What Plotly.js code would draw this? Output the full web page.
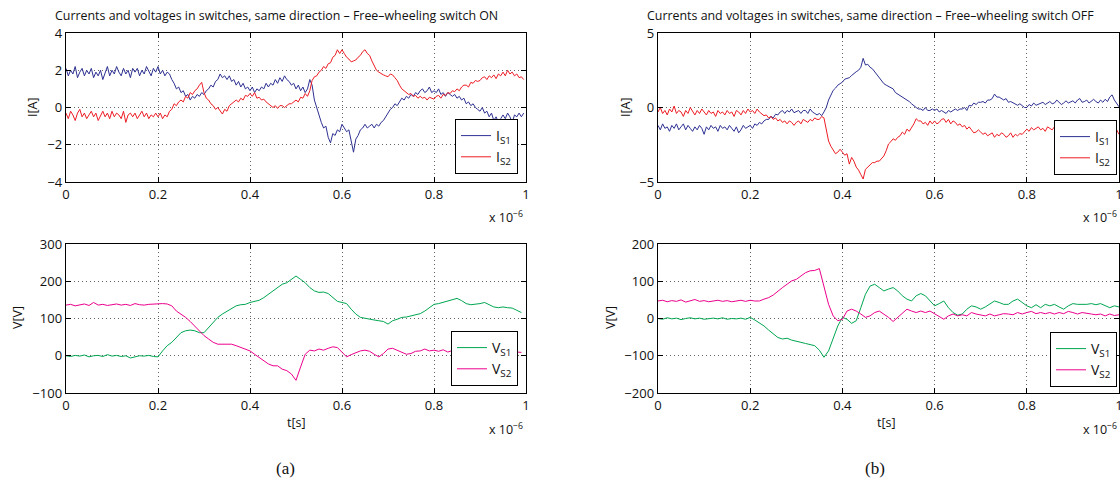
<!DOCTYPE html>
<html><head><meta charset="utf-8">
<script src="https://cdn.plot.ly/plotly-3.0.1.min.js"></script>
<style>html,body{margin:0;padding:0;background:#fff}#chart{width:1120px;height:482px}</style>
</head><body><div id="chart"></div>
<script>
// ---- (a) Free-wheeling switch ON : currents, sampled every 0.005 (x 1e-6 s) ----
const IS1_on = [
 2.1, 1.7, 2.0, 1.8, 2.2, 1.6, 1.9, 2.1, 1.7, 2.0,
 1.8, 2.1, 1.6, 1.9, 1.7, 2.0, 1.5, 1.8, 2.2, 1.7,
 2.0, 1.8, 2.2, 1.9, 1.7, 2.1, 1.8, 2.0, 1.6, 2.1,
 1.9, 2.1, 1.7, 2.0, 1.8, 2.2, 1.9, 1.7, 2.1, 1.9,
 2.2, 1.8, 2.0, 1.7, 1.9, 1.8, 1.5, 1.3, 1.0, 1.1,
 0.8, 0.9, 0.6, 0.7, 0.4, 0.6, 0.5, 0.7, 0.6, 0.8,
 0.7, 0.9, 1.0, 1.2, 1.1, 1.4, 1.5, 1.8, 1.6, 1.7,
 1.5, 1.7, 1.4, 1.5, 1.2, 1.4, 1.1, 1.3, 1.0, 1.1,
 0.9, 1.1, 0.8, 1.0, 0.9, 1.1, 1.0, 1.3, 1.1, 1.3,
 1.2, 1.5, 1.3, 1.6, 1.4, 1.7, 1.5, 1.4, 1.2, 1.3,
 1.0, 1.2, 0.9, 1.1, 0.8, 1.0, 1.5, 1.2, 0.4, 0.0,
 -0.5, -0.8, -1.1, -1.0, -1.6, -1.9, -1.4, -1.5, -1.2, -1.3,
 -0.9, -1.1, -1.3, -1.2, -1.8, -2.4, -1.7, -1.5, -1.2, -1.1,
 -0.9, -1.1, -1.0, -0.9, -1.1, -0.9, -1.0, -0.8, -0.7, -0.5,
 -0.3, -0.1, 0.0, 0.2, 0.1, 0.3, 0.5, 0.4, 0.6, 0.5,
 0.7, 0.6, 0.8, 0.7, 0.9, 1.0, 0.8, 0.9, 1.1, 0.8,
 0.9, 0.8, 1.0, 0.7, 0.8, 0.6, 0.8, 0.7, 0.6, 0.7,
 0.5, 0.6, 0.4, 0.5, 0.2, 0.3, 0.1, 0.2, 0.0, -0.1,
 -0.2, 0.0, -0.3, -0.2, -0.5, -0.3, -0.7, -0.5, -0.8, -0.6,
 -0.4, -0.6, -0.3, -0.5, -0.8, -0.4, -0.5, -0.3, -0.5, -0.3
];
const IS2_on = [
 -0.3, -0.6, -0.2, -0.4, -0.7, -0.3, -0.1, -0.5, -0.3, -0.6,
 -0.4, -0.2, -0.5, -0.3, -0.7, -0.4, -0.2, -0.5, -0.3, -0.6,
 -0.2, -0.5, -0.3, -0.4, -0.6, -0.2, -0.8, -0.4, -0.3, -0.5,
 -0.3, -0.6, -0.4, -0.2, -0.5, -0.3, -0.6, -0.4, -0.5, -0.3,
 -0.5, -0.3, -0.6, -0.4, -0.5, -0.2, -0.1, 0.2, 0.1, 0.3,
 0.4, 0.3, 0.6, 0.5, 0.8, 0.7, 0.9, 1.0, 1.2, 1.35,
 0.8, 0.5, 0.4, 0.2, 0.1, -0.1, 0.0, -0.2, -0.35, -0.1,
 -0.2, 0.1, 0.2, 0.3, 0.4, 0.3, 0.5, 0.4, 0.65, 0.6,
 0.75, 0.6, 0.8, 0.5, 0.55, 0.4, 0.45, 0.3, 0.2, 0.1,
 0.0, 0.1, -0.05, 0.1, 0.1, 0.0, 0.1, 0.2, 0.2, 0.3,
 0.4, 0.3, 0.55, 0.5, 0.75, 0.6, 0.9, 1.45, 1.65, 1.7,
 1.9, 2.0, 2.2, 2.1, 2.35, 2.4, 2.7, 2.8, 3.1, 2.9,
 3.1, 2.9, 2.7, 2.6, 2.45, 2.5, 2.55, 2.7, 2.8, 3.0,
 3.1, 2.9, 2.8, 2.5, 2.2, 2.0, 1.9, 1.8, 1.75, 1.7,
 1.65, 1.8, 1.75, 1.6, 1.45, 1.2, 1.0, 0.9, 0.8, 0.7,
 0.75, 0.6, 0.65, 0.5, 0.6, 0.5, 0.55, 0.4, 0.55, 0.5,
 0.45, 0.6, 0.65, 0.5, 0.7, 0.65, 0.8, 0.75, 0.9, 0.85,
 1.0, 0.9, 1.1, 1.2, 1.2, 1.1, 1.35, 1.3, 1.45, 1.4,
 1.45, 1.6, 1.65, 1.5, 1.7, 1.6, 1.75, 1.55, 1.8, 1.7,
 1.9, 1.7, 2.0, 1.8, 1.9, 1.7, 1.8, 1.6, 1.65, 1.5
];
// ---- (a) voltages, sampled every 0.01 ----
const VS1_on = [
 0, -2, 1, -1, 2, -3, 0, 1, -2, 3,
 -1, 1, -2, 0, -6, -3, 0, -1, 1, -2,
 -3, 13, 27, 36, 49, 62, 67, 69, 67, 62,
 62, 76, 89, 103, 112, 120, 128, 134, 137, 138,
 143, 146, 149, 156, 165, 174, 183, 192, 196, 205,
 214, 205, 196, 183, 174, 170, 171, 167, 156, 146,
 143, 140, 125, 112, 103, 100, 98, 96, 94, 92,
 85, 94, 98, 103, 104, 107, 110, 113, 120, 129,
 138, 140, 143, 146, 149, 154, 148, 140, 137, 138,
 140, 143, 137, 131, 129, 131, 129, 128, 122, 116
];
const VS2_on = [
 136, 138, 134, 137, 139, 135, 143, 136, 138, 135,
 137, 139, 136, 138, 135, 140, 137, 136, 138, 139,
 140, 140, 139, 134, 120, 112, 103, 92, 80, 67,
 54, 45, 36, 31, 31, 33, 31, 27, 22, 18,
 13, 4, -4, -13, -22, -27, -27, -36, -40, -49,
 -66, -30, 4, 15, 13, 18, 15, 20, 24, 22,
 9, -3, 3, 9, 13, 15, 12, 4, -3, 6,
 18, 20, 15, 9, 4, 6, 12, 13, 18, 13,
 15, 12, 16, 10, 14, 8, 12, 10, 14, 9,
 12, 8, 11, 14, 10, 12, 9, 13, 10, 9
];
// ---- (b) Free-wheeling switch OFF : currents, every 0.005 ----
const IS1_off = [
 -1.2, -1.5, -1.1, -1.4, -1.3, -1.6, -1.2, -1.4, -1.1, -1.5,
 -1.3, -1.1, -1.5, -1.2, -1.4, -1.6, -1.3, -1.5, -1.2, -1.4,
 -1.8, -1.3, -1.5, -1.2, -1.4, -1.3, -1.6, -1.2, -1.4, -1.3,
 -1.5, -1.2, -1.4, -1.6, -1.3, -1.7, -1.5, -1.2, -1.4, -1.3,
 -1.2, -1.4, -1.1, -1.2, -1.0, -1.1, -0.9, -0.8, -0.8, -0.6,
 -0.7, -0.45, -0.5, -0.3, -0.2, -0.4, -0.2, -0.3, -0.1, -0.35,
 -0.3, -0.2, -0.4, -0.2, -0.2, -0.4, -0.1, -0.3, -0.4, -0.5,
 -0.4, -0.55, -0.3, 0.0, 0.5, 0.8, 1.15, 1.3, 1.5, 1.6,
 1.7, 1.9, 1.95, 2.0, 2.15, 2.3, 2.4, 2.5, 2.7, 3.3,
 2.85, 2.9, 2.7, 2.6, 2.4, 2.2, 2.05, 1.8, 1.6, 1.5,
 1.4, 1.3, 1.25, 1.0, 0.9, 0.85, 0.7, 0.6, 0.5, 0.4,
 0.25, 0.1, 0.0, -0.1, -0.1, -0.2, 0.0, -0.2, -0.2, -0.1,
 -0.2, -0.1, -0.3, -0.2, -0.3, -0.4, -0.2, -0.3, -0.2, -0.1,
 -0.2, -0.1, -0.1, 0.0, -0.2, 0.15, 0.1, 0.3, 0.2, 0.35,
 0.35, 0.4, 0.3, 0.5, 0.5, 0.6, 0.9, 0.7, 0.7, 0.6,
 0.5, 0.6, 0.35, 0.4, 0.3, 0.2, 0.15, 0.25, 0.1, 0.0,
 0.0, 0.2, 0.1, 0.3, 0.15, 0.2, 0.25, 0.35, 0.2, 0.3,
 0.4, 0.25, 0.3, 0.5, 0.35, 0.2, 0.3, 0.45, 0.3, 0.4,
 0.45, 0.3, 0.5, 0.6, 0.35, 0.4, 0.5, 0.3, 0.45, 0.55,
 0.4, 0.3, 0.5, 0.35, 0.55, 0.4, 0.7, 0.85, 0.5, 0.25,
 0.05
];
const IS2_off = [
 -0.3, 0.0, -0.4, -0.2, -0.5, -0.1, -0.3, 0.1, -0.4, -0.2,
 -0.3, -0.6, -0.2, -0.4, 0.0, -0.3, -0.5, -0.2, -0.4, -0.1,
 -0.3, -0.5, -0.2, -0.4, -0.3, -0.6, -0.2, -0.4, -0.3, -0.5,
 -0.2, -0.4, -0.3, -0.6, -0.2, -0.3, -0.5, -0.2, -0.4, -0.1,
 -0.3, -0.2, -0.4, -0.1, -0.3, -0.4, -0.55, -0.5, -0.7, -0.6,
 -0.8, -0.7, -0.9, -0.8, -1.0, -0.9, -1.1, -0.9, -1.0, -1.2,
 -1.0, -0.9, -1.1, -0.8, -0.9, -1.0, -0.8, -0.9, -0.7, -0.8,
 -0.8, -0.6, -0.7, -1.55, -2.25, -2.6, -2.9, -3.1, -3.0, -2.8,
 -3.0, -3.2, -3.1, -3.8, -3.35, -3.6, -4.0, -4.2, -4.5, -4.8,
 -4.15, -4.0, -3.8, -3.7, -3.7, -3.6, -3.6, -3.4, -3.25, -2.9,
 -2.45, -2.3, -2.1, -2.2, -2.0, -1.9, -1.65, -1.8, -1.45, -1.6,
 -1.35, -1.1, -0.75, -0.9, -0.9, -1.1, -1.0, -1.2, -0.9, -1.1,
 -0.9, -1.1, -1.0, -0.8, -0.75, -1.0, -0.8, -1.1, -0.9, -1.0,
 -1.2, -1.1, -1.3, -1.2, -1.45, -1.3, -1.5, -1.7, -1.65, -1.5,
 -1.65, -1.8, -1.7, -1.9, -1.8, -1.7, -2.0, -1.8, -1.9, -1.7,
 -1.8, -2.0, -1.9, -1.7, -2.0, -1.8, -1.9, -1.75, -1.8, -1.6,
 -1.45, -1.6, -1.35, -1.5, -1.4, -1.3, -1.5, -1.4, -1.6, -1.3,
 -1.4, -1.5, -1.3, -1.6, -1.4, -1.5, -1.3, -1.6, -1.5, -1.4,
 -1.6, -1.4, -1.7, -1.5, -1.6, -1.4, -1.7, -1.5, -1.6, -1.8,
 -1.5, -1.7, -1.6, -1.8, -1.5, -1.7, -1.6, -1.9, -1.7, -1.5,
 -1.8
];
// ---- (b) voltages, every 0.01 ----
const VS1_off = [
 0, -2, 2, -1, 1, -3, 0, 2, -1, 1,
 -2, 0, 1, -1, 2, -2, 0, -1, 1, -2,
 3, -4, -11, -20, -31, -42, -51, -55, -53, -58,
 -62, -64, -67, -69, -73, -85, -104, -87, -51, -20,
 3, -2, -13, -6, 29, 65, 87, 92, 83, 74,
 79, 83, 74, 61, 52, 47, 61, 67, 61, 47,
 34, 40, 47, 29, 16, 9, 12, 25, 34, 31,
 25, 31, 38, 47, 43, 38, 38, 47, 52, 43,
 34, 29, 37, 29, 38, 34, 38, 31, 25, 34,
 40, 38, 37, 38, 40, 37, 40, 34, 29, 34, 31
];
const VS2_off = [
 47, 49, 45, 48, 46, 50, 44, 47, 51, 46,
 48, 45, 47, 49, 46, 48, 45, 47, 49, 46,
 49, 47, 47, 52, 56, 63, 74, 83, 92, 101,
 105, 114, 123, 128, 129, 134, 83, 38, 7, -6,
 -2, 20, 25, 20, 12, 3, 7, 16, 20, 12,
 3, -8, 3, 16, 25, 20, 16, 20, 16, 20,
 13, 4, -2, 7, 12, 7, 10, 7, 16, 12,
 10, 7, 12, 7, 10, 13, 12, 10, 16, 12,
 16, 19, 13, 16, 13, 16, 12, 16, 13, 19,
 16, 12, 16, 13, 12, 10, 12, 7, 12, 8, 10
];

const xTickVals = [0, 0.2, 0.4, 0.6, 0.8, 1];
const xTickText = ['0', '0.2', '0.4', '0.6', '0.8', '1'];
const iTicksOn = [-4, -2, 0, 2, 4];
const iTicksOff = [-5, 0, 5];
const vTicksOn = [-100, 0, 100, 200, 300];
const vTicksOff = [-200, -100, 0, 100, 200];

const titleOn = 'Currents and voltages in switches, same direction \u2013 Free\u2013wheeling switch ON';
const titleOff = 'Currents and voltages in switches, same direction \u2013 Free\u2013wheeling switch OFF';

function grid(n, dt) { return Array.from({length: n}, (_, i) => +(i * dt).toFixed(4)); }

const F = 'Open Sans, sans-serif';
const C = {blue: '#2e3192', red: '#ed1c24', green: '#00a651', pink: '#ec008c'};

function tr(y, dt, xa, ya, color, name, leg) {
  return {x: grid(y.length, dt), y: y, xaxis: xa, yaxis: ya, type: 'scatter', mode: 'lines',
    line: {color: color, width: 1}, name: name, legend: leg, hoverinfo: 'skip'};
}

const data = [
  tr(IS1_on, 0.005, 'x', 'y', C.blue, 'I<sub>S1</sub>', 'legend'),
  tr(IS2_on, 0.005, 'x', 'y', C.red, 'I<sub>S2</sub>', 'legend'),
  tr(VS1_on, 0.01, 'x2', 'y2', C.green, 'V<sub>S1</sub>', 'legend2'),
  tr(VS2_on, 0.01, 'x2', 'y2', C.pink, 'V<sub>S2</sub>', 'legend2'),
  tr(IS1_off, 0.005, 'x3', 'y3', C.blue, 'I<sub>S1</sub>', 'legend3'),
  tr(IS2_off, 0.005, 'x3', 'y3', C.red, 'I<sub>S2</sub>', 'legend3'),
  tr(VS1_off, 0.01, 'x4', 'y4', C.green, 'V<sub>S1</sub>', 'legend4'),
  tr(VS2_off, 0.01, 'x4', 'y4', C.pink, 'V<sub>S2</sub>', 'legend4')
];

const W = 1120, H = 482;
const px = v => v / W, py = v => 1 - v / H;
const LX = [px(66), px(526)], RX = [px(658), px(1119)];
const TY = [py(182), py(33)], BY = [py(393), py(244)];

const common = {ticks: 'inside', ticklen: 5, tickwidth: 1, tickcolor: '#000', showline: true,
  linecolor: '#000', linewidth: 1.3, mirror: 'ticks', showgrid: true, gridcolor: '#666',
  griddash: '1px,3px', gridwidth: 1, zeroline: false, fixedrange: true,
  ticklabeloverflow: 'allow', tickfont: {family: F, size: 13, color: '#111'}};

function xa(dom, anchor) {
  return Object.assign({}, common, {domain: dom, anchor: anchor, range: [0, 1],
    tickmode: 'array', tickvals: xTickVals, ticktext: xTickText});
}
function ya(dom, anchor, range, tv) {
  return Object.assign({}, common, {domain: dom, anchor: anchor, range: range,
    tickmode: 'array', tickvals: tv, ticktext: tv.map(v => v < 0 ? '\u2212' + Math.abs(v) : String(v))});
}

function leg(xr, yb) {
  return {x: px(xr), y: py(yb), xanchor: 'right', yanchor: 'bottom', bgcolor: '#fff',
    bordercolor: '#000', borderwidth: 1, font: {family: F, size: 14, color: '#111'},
    tracegroupgap: 0, itemwidth: 30};
}

function ann(text, x, y, opts) {
  return Object.assign({text: text, x: px(x), y: py(y), xref: 'paper', yref: 'paper',
    showarrow: false, xanchor: 'center', yanchor: 'middle',
    font: {family: F, size: 12.5, color: '#111'}}, opts || {});
}

const annotations = [
  ann(titleOn, 276, 16, {font: {family: F, size: 12.4, color: '#111'}}),
  ann(titleOff, 870, 16, {font: {family: F, size: 12.4, color: '#111'}}),
  ann('I[A]', 32, 107, {textangle: -90}),
  ann('V[V]', 17, 318, {textangle: -90}),
  ann('I[A]', 625, 107, {textangle: -90}),
  ann('V[V]', 610, 318, {textangle: -90}),
  ann('t[s]', 296, 422),
  ann('t[s]', 886, 422),
  ann('x 10<sup>\u22126</sup>', 525, 217, {xanchor: 'right'}),
  ann('x 10<sup>\u22126</sup>', 525, 429, {xanchor: 'right'}),
  ann('x 10<sup>\u22126</sup>', 1119, 217, {xanchor: 'right'}),
  ann('x 10<sup>\u22126</sup>', 1119, 429, {xanchor: 'right'}),
  ann('(a)', 285, 468, {font: {family: 'Liberation Serif, serif', size: 17, color: '#111'}}),
  ann('(b)', 875, 468, {font: {family: 'Liberation Serif, serif', size: 17, color: '#111'}})
];

const layout = {
  width: W, height: H, margin: {l: 0, r: 0, t: 0, b: 0},
  paper_bgcolor: '#fff', plot_bgcolor: '#fff', showlegend: true, hovermode: false,
  font: {family: F, size: 12, color: '#111'},
  xaxis: xa(LX, 'y'), yaxis: ya(TY, 'x', [-4, 4], iTicksOn),
  xaxis2: xa(LX, 'y2'), yaxis2: ya(BY, 'x2', [-100, 300], vTicksOn),
  xaxis3: xa(RX, 'y3'), yaxis3: ya(TY, 'x3', [-5, 5], iTicksOff),
  xaxis4: xa(RX, 'y4'), yaxis4: ya(BY, 'x4', [-200, 200], vTicksOff),
  legend: leg(518, 174), legend2: leg(518, 386),
  legend3: leg(1117, 175), legend4: leg(1117, 387),
  annotations: annotations
};

Plotly.newPlot('chart', data, layout, {staticPlot: true, displayModeBar: false});
</script></body></html>
